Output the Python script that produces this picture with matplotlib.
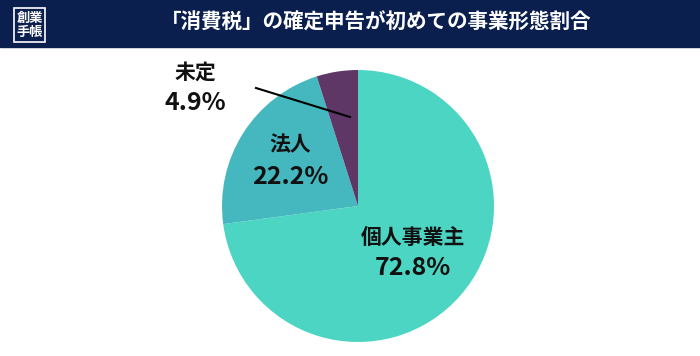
import matplotlib.pyplot as plt
from matplotlib.patches import Rectangle

plt.rcParams['font.family'] = ['Noto Sans CJK JP', 'DejaVu Sans']

# data
labels = ["個人事業主", "法人", "未定"]
shares = [72.8, 22.2, 4.9]
colors = ["#4dd5c4", "#44b8be", "#5e3767"]
title = "「消費税」の確定申告が初めての事業形態割合"

W, H = 700, 356
fig = plt.figure(figsize=(W / 100, H / 100), dpi=100)
fig.patch.set_facecolor("white")

# pie axes: center (358, 206), radius 136 px
r = 136
cx, cy = 358, 206
ax = fig.add_axes([(cx - r) / W, 1 - (cy + r) / H, 2 * r / W, 2 * r / H])
ax.pie(shares, colors=colors, startangle=90, counterclock=False,
       wedgeprops=dict(linewidth=0))
ax.set_aspect("equal")
ax.set_xlim(-1, 1)
ax.set_ylim(-1, 1)

# overlay axes in pixel coordinates
ov = fig.add_axes([0, 0, 1, 1], zorder=5)
ov.set_xlim(0, W)
ov.set_ylim(H, 0)
ov.axis("off")

# faint clipped text behind the header
ov.text(333, 53, "- ‒ ‒ ·", color="#aaaaaa", fontsize=10, ha="center",
        va="bottom", fontweight="bold", zorder=1)

# header band
ov.add_patch(Rectangle((0, 0), W, 47, color="#0b1f4f", zorder=2))
ov.add_patch(Rectangle((14, 8), 31, 34, fill=False, edgecolor="white",
                       linewidth=1.2, zorder=3))
ov.text(29.5, 25, "創業\n手帳", color="white", fontsize=9.5, fontweight="bold",
        ha="center", va="center", linespacing=1.0, zorder=3)
ov.text(376, 22, title, color="white", fontsize=14.8, fontweight="bold",
        ha="center", va="center", zorder=3)

# labels
ov.text(413, 237, labels[0], fontsize=15, fontweight="bold", ha="center",
        va="center", color="#111111")
ov.text(413, 268, f"{shares[0]}%", fontsize=18, fontweight="bold",
        ha="center", va="center", color="#111111")
ov.text(290, 145, labels[1], fontsize=15, fontweight="bold", ha="center",
        va="center", color="#111111")
ov.text(290, 177, f"{shares[1]}%", fontsize=18, fontweight="bold",
        ha="center", va="center", color="#111111")
ov.text(195, 72, labels[2], fontsize=15, fontweight="bold", ha="center",
        va="center", color="#111111")
ov.text(195, 103, f"{shares[2]}%", fontsize=18, fontweight="bold",
        ha="center", va="center", color="#111111")
ov.plot([256, 350], [88, 117], color="black", linewidth=1.5)

fig.savefig("out.png", dpi=100)
